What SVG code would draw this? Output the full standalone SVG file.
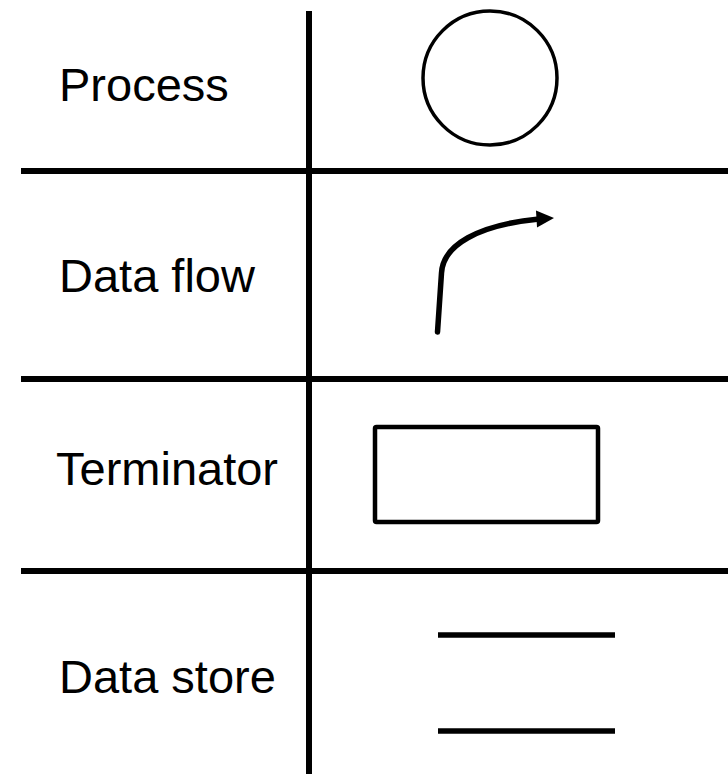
<svg xmlns="http://www.w3.org/2000/svg" width="728" height="774" viewBox="0 0 728 774">
<style>
.grid{stroke:#000;stroke-width:6;fill:none}
.shape{stroke:#000;fill:none}
.lbl{font-family:"Liberation Sans",Arial,sans-serif;font-size:47px;fill:#000}
</style>
<rect width="728" height="774" fill="#fff"/>
<g id="grid">
<line class="grid" x1="309" y1="11" x2="309" y2="774"/>
<line class="grid" x1="21" y1="171" x2="728" y2="171"/>
<line class="grid" x1="21" y1="379" x2="728" y2="379"/>
<line class="grid" x1="21" y1="571" x2="728" y2="571"/>
</g>
<g id="process">
<text class="lbl" x="59" y="101">Process</text>
<circle class="shape" cx="490" cy="78" r="67" stroke-width="3.5"/>
</g>
<g id="dataflow">
<text class="lbl" x="59" y="292">Data flow</text>
<path class="shape" d="M437.5,332 L441.5,273 C443,245 478,225 539,219" stroke-width="5.5" stroke-linecap="round"/>
<polygon points="536,210.5 554,218 537,227.5" fill="#000"/>
</g>
<g id="terminator">
<text class="lbl" x="56" y="485">Terminator</text>
<rect class="shape" x="375" y="427" width="223" height="95" rx="1.5" stroke-width="4.5"/>
</g>
<g id="datastore">
<text class="lbl" x="59" y="693">Data store</text>
<line class="shape" x1="438" y1="635" x2="615" y2="635" stroke-width="5.5"/>
<line class="shape" x1="438" y1="731" x2="615" y2="731" stroke-width="5.5"/>
</g>
</svg>
